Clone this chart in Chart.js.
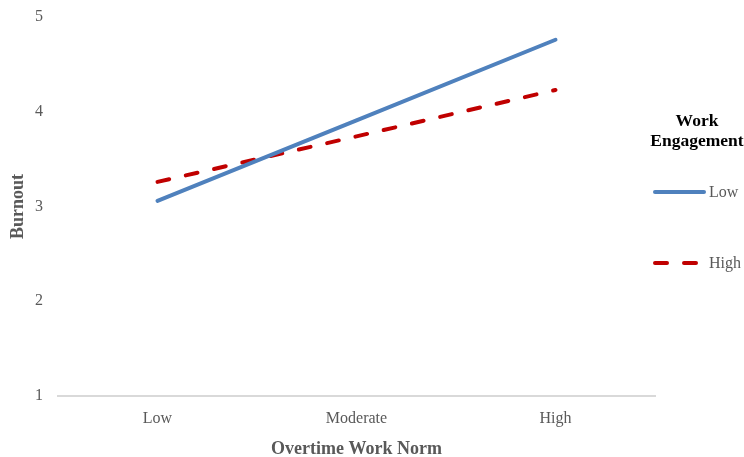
<!DOCTYPE html>
<html>
<head>
<meta charset="utf-8">
<script src="https://cdn.jsdelivr.net/npm/chart.js@4"></script>
<style>
  html, body { margin: 0; padding: 0; background: #fff; }
  #wrap { width: 744px; height: 457px; }
</style>
</head>
<body>
<div id="wrap"><canvas id="chart"></canvas></div>
<script>
// Data
const categories = ["Low", "Moderate", "High"];
const lowEngagement = [3.06, 3.91, 4.76];
const highEngagement = [3.26, 3.74, 4.23];
const yTicks = [1, 2, 3, 4, 5];

const serif = "'Liberation Serif', 'Times New Roman', serif";

// Legend on the right, drawn by hand so the two-line title fits
const sideLegend = {
  id: 'sideLegend',
  afterDraw(chart) {
    const ctx = chart.ctx;
    ctx.save();
    ctx.textAlign = 'center';
    ctx.textBaseline = 'middle';
    ctx.fillStyle = '#000000';
    ctx.font = 'bold 17.5px ' + serif;
    ctx.fillText('Work', 697, 121);
    ctx.fillText('Engagement', 697, 141);

    const rows = [192, 263];
    chart.data.datasets.forEach((ds, i) => {
      const y = rows[i];
      ctx.beginPath();
      ctx.strokeStyle = ds.borderColor;
      ctx.lineWidth = ds.borderWidth;
      ctx.lineCap = 'round';
      ctx.setLineDash(ds.borderDash || []);
      ctx.moveTo(655, y);
      ctx.lineTo(704, y);
      ctx.stroke();
      ctx.setLineDash([]);
      ctx.fillStyle = '#595959';
      ctx.font = '16px ' + serif;
      ctx.textAlign = 'left';
      ctx.fillText(ds.label, 709, y + 1);
    });
    ctx.restore();
  }
};

const ctx = document.getElementById('chart').getContext('2d');
new Chart(ctx, {
  type: 'line',
  data: {
    labels: categories,
    datasets: [
      {
        label: 'Low',
        data: lowEngagement,
        borderColor: '#4F81BD',
        borderWidth: 4,
        borderCapStyle: 'round',
        pointRadius: 0,
        tension: 0
      },
      {
        label: 'High',
        data: highEngagement,
        borderColor: '#C00000',
        borderWidth: 4,
        borderCapStyle: 'round',
        borderDash: [12, 17],
        pointRadius: 0,
        tension: 0
      }
    ]
  },
  options: {
    responsive: true,
    maintainAspectRatio: false,
    animation: false,
    layout: { padding: { top: 17, right: 89, bottom: 0, left: 8 } },
    plugins: {
      legend: { display: false },
      tooltip: { enabled: false }
    },
    scales: {
      x: {
        offset: true,
        afterFit(axis) { axis.height = 61; },
        grid: { display: false, drawTicks: false },
        border: { color: '#d9d9d9', width: 2 },
        ticks: { color: '#595959', font: { family: serif, size: 16 }, padding: 13 },
        title: {
          display: true,
          text: 'Overtime Work Norm',
          color: '#595959',
          font: { family: serif, size: 18, weight: 'bold' },
          padding: { top: 4, bottom: -3 }
        }
      },
      y: {
        min: 1,
        max: 5,
        afterFit(axis) { axis.width = 50; axis.paddingTop = 0; },
        ticks: {
          stepSize: 1,
          callback: (v) => yTicks.includes(v) ? String(v) : null,
          color: '#595959',
          font: { family: serif, size: 16 },
          padding: 15
        },
        grid: { display: false, drawTicks: false },
        border: { display: false },
        title: {
          display: true,
          text: 'Burnout',
          color: '#595959',
          font: { family: serif, size: 18, weight: 'bold' },
          padding: { top: 0, bottom: 6 }
        }
      }
    }
  },
  plugins: [sideLegend]
});
</script>
</body>
</html>
